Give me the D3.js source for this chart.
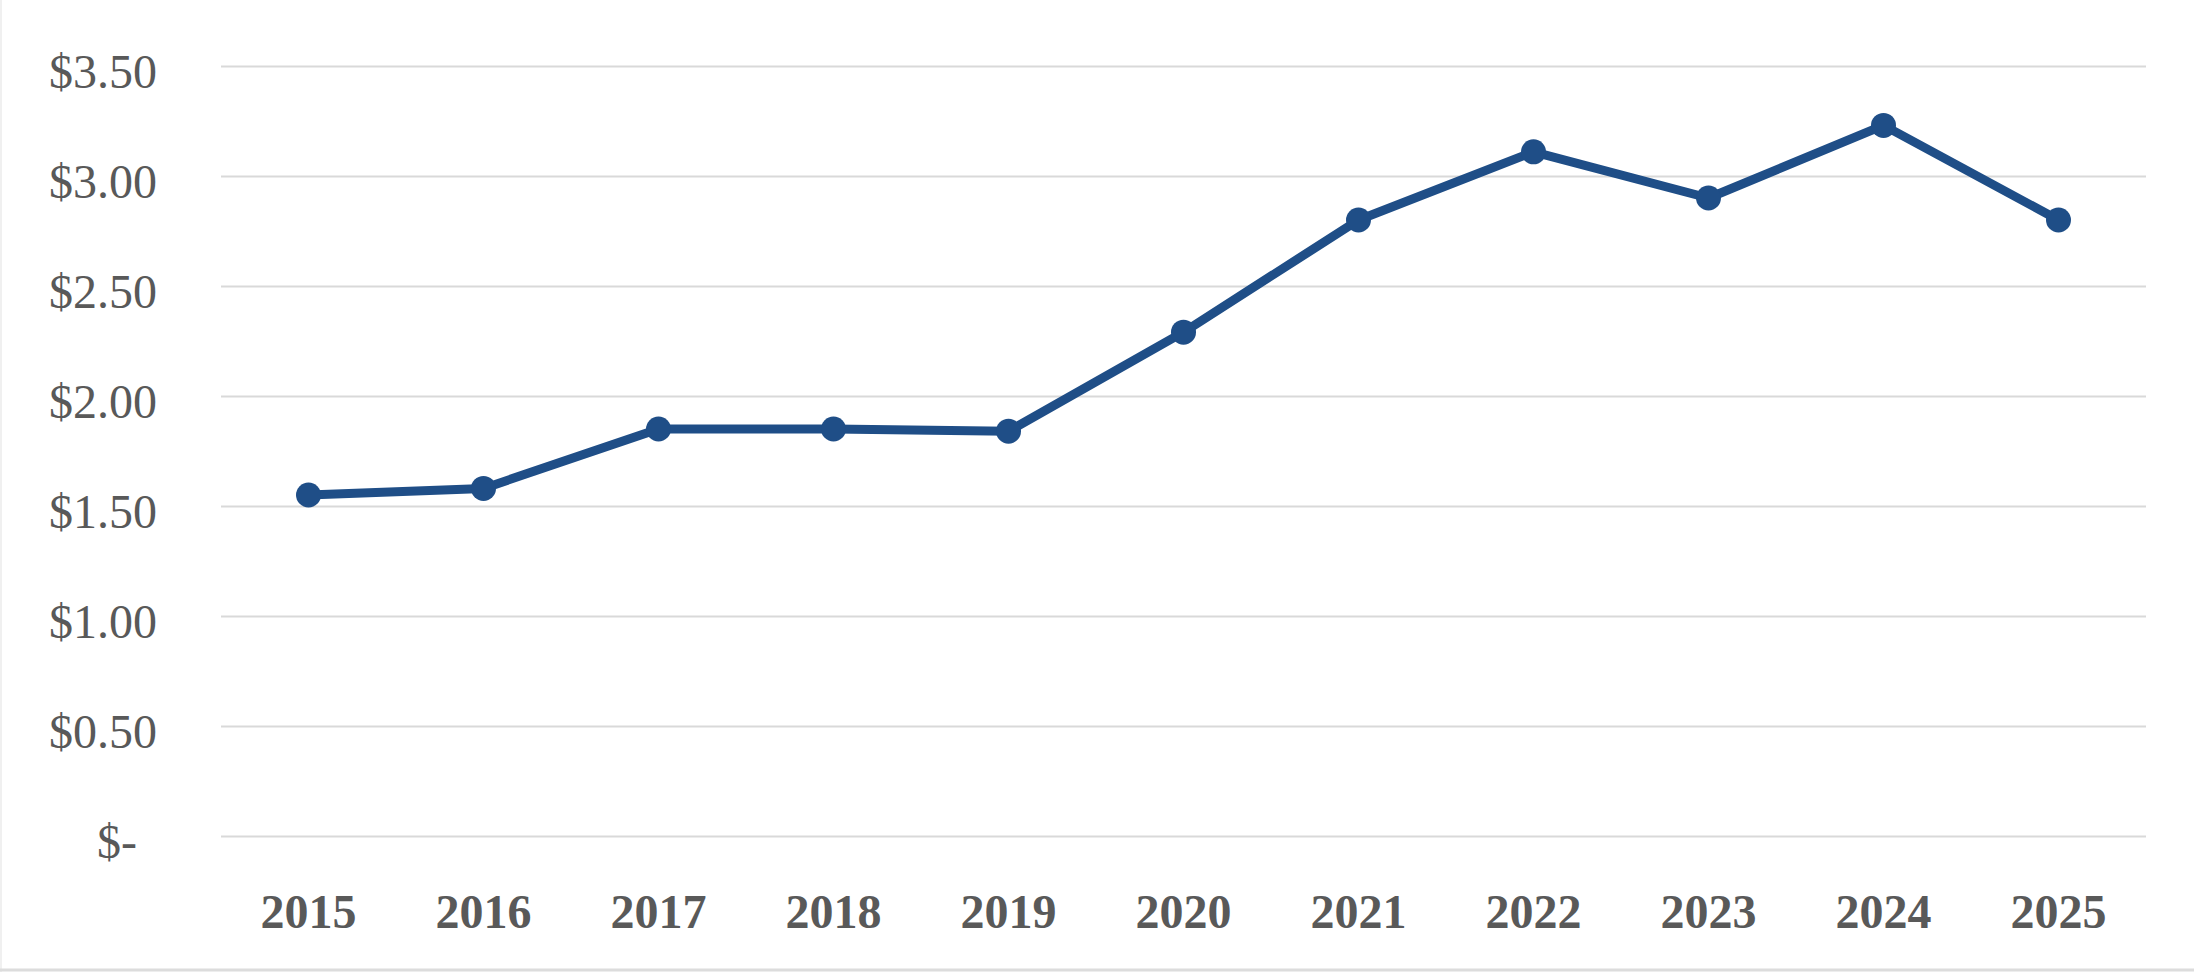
<!DOCTYPE html>
<html lang="en">
<head>
  <meta charset="utf-8">
  <title>Price per year</title>
  <script src="https://d3js.org/d3.v7.min.js"></script>
  <style>
    html, body { margin: 0; padding: 0; background: #fff; }
    .grid line { stroke: #d9d9d9; stroke-width: 2; }
    .grid path { display: none; }
    .yaxis text { font: 48px "Liberation Serif", "DejaVu Serif", serif; fill: #595959; }
    .xaxis text { font: bold 48px "Liberation Serif", "DejaVu Serif", serif; fill: #595959; }
    .yaxis path, .yaxis line, .xaxis path, .xaxis line { display: none; }
  </style>
</head>
<body>
  <div id="chart"></div>

  <script>
    "use strict"

    // dados
    var anos = ["2015", "2016", "2017", "2018", "2019", "2020", "2021", "2022", "2023", "2024", "2025"];
    var valores = [1.55, 1.58, 1.85, 1.85, 1.84, 2.29, 2.80, 3.11, 2.90, 3.23, 2.80];
    var yTicks = [0, 0.5, 1.0, 1.5, 2.0, 2.5, 3.0, 3.5];

    var larguraSVG = 2194, alturaSVG = 972;
    var margin = {top: 66, right: 48, bottom: 136, left: 221},
        larguraVis = larguraSVG - margin.left - margin.right,
        alturaVis = alturaSVG - margin.top - margin.bottom;

    var x = d3.scaleBand()
              .domain(anos)
              .range([0, larguraVis]);

    var y = d3.scaleLinear()
              .domain([0, 3.5])
              .range([alturaVis, 0]);

    var svg = d3.select('#chart')
      .append('svg')
        .attr('width', larguraSVG)
        .attr('height', alturaSVG);

    // bordas claras (esquerda e embaixo)
    svg.append('line')
      .attr('x1', 1).attr('x2', 1).attr('y1', 0).attr('y2', alturaSVG)
      .attr('stroke', '#f0f0f0').attr('stroke-width', 2);
    svg.append('line')
      .attr('x1', 0).attr('x2', larguraSVG).attr('y1', alturaSVG - 2).attr('y2', alturaSVG - 2)
      .attr('stroke', '#dcdcdc').attr('stroke-width', 3);

    var g = svg.append('g')
      .attr('transform', 'translate(' + margin.left + ',' + margin.top + ')');

    // linhas de grade
    g.append('g')
      .attr('class', 'grid')
      .call(d3.axisLeft(y).tickValues(yTicks).tickSize(-larguraVis).tickFormat(''));

    // eixo y
    g.append('g')
      .attr('class', 'yaxis')
      .attr('transform', 'translate(-64,0)')
      .call(d3.axisLeft(y).tickValues(yTicks).tickSize(0).tickPadding(0)
        .tickFormat(d => d === 0 ? '$-' : '$' + d3.format('.2f')(d)))
      .selectAll('text')
        .attr('dy', '0.45em')
        .attr('x', d => d === 0 ? -20 : 0);

    // eixo x
    g.append('g')
      .attr('class', 'xaxis')
      .attr('transform', 'translate(0,' + alturaVis + ')')
      .call(d3.axisBottom(x).tickSize(0).tickPadding(58));

    var linha = d3.line()
      .x((d, i) => x(anos[i]) + x.bandwidth() / 2)
      .y(d => y(d));

    g.append('path')
      .datum(valores)
      .attr('fill', 'none')
      .attr('stroke', '#1f4e87')
      .attr('stroke-width', 9)
      .attr('stroke-linejoin', 'round')
      .attr('d', linha);

    g.selectAll('circle')
      .data(valores)
      .enter()
      .append('circle')
        .attr('cx', (d, i) => x(anos[i]) + x.bandwidth() / 2)
        .attr('cy', d => y(d))
        .attr('r', 12.5)
        .attr('fill', '#1f4e87');
  </script>
</body>
</html>
